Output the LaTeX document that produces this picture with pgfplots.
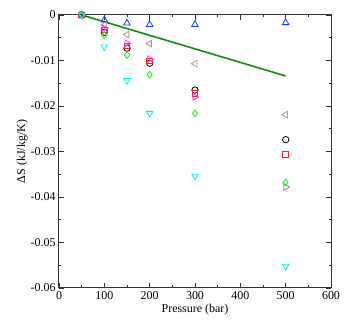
\documentclass[border=0pt]{standalone}
\usepackage{fontspec}
\setmainfont{Liberation Serif}
\usepackage{pgfplots}
\pgfplotsset{compat=1.18}
\definecolor{lblue}{RGB}{20,60,230}
\definecolor{lbrown}{RGB}{190,145,140}
\definecolor{lred}{RGB}{255,30,30}
\definecolor{lmag}{RGB}{250,60,250}
\definecolor{lgreen}{RGB}{20,240,20}
\definecolor{lcyan}{RGB}{0,240,250}
\definecolor{fitline}{RGB}{20,140,20}

\begin{document}
\begin{tikzpicture}
\begin{axis}[scale only axis, width=272bp, height=273bp,
  xmin=0, xmax=600, ymin=-0.06, ymax=0,
  xtick={0,100,...,600}, minor xtick={50,150,...,550},
  ytick={-0.06,-0.05,...,0}, minor ytick={-0.055,-0.045,...,-0.005},
  scaled y ticks=false,
  tick align=inside, major tick length=5bp, minor tick length=2.5bp,
  tick style={black!80, line width=0.6bp},
  axis line style={black!80, line width=1bp},
  yticklabel style={/pgf/number format/fixed, /pgf/number format/precision=2},
  /pgf/number format/assume math mode=true,
  ticklabel style={font=\fontsize{12}{13}\selectfont},
  label style={font=\fontsize{12}{13}\selectfont},
  xlabel={Pressure (bar)}, ylabel={ΔS (kJ/kg/K)},
  xlabel style={yshift=2bp}, ylabel style={yshift=-4bp},
  clip=false]
\addplot[fitline, line width=1.6bp] coordinates {(50,0) (500,-0.0134)};
\addplot[only marks, mark=triangle, mark size=3.8bp, lblue, line width=0.8bp]
  coordinates {(50,0) (100,-0.0011) (150,-0.0018) (200,-0.0021) (300,-0.0021) (500,-0.0017)};
\addplot[only marks, mark=triangle, mark options={rotate=90}, mark size=3.8bp, lbrown, line width=0.8bp]
  coordinates {(50,0) (100,-0.0022) (150,-0.0043) (200,-0.0063) (300,-0.0107) (500,-0.0219)};
\addplot[only marks, mark=o, mark size=3.2bp, black, line width=0.8bp]
  coordinates {(50,0) (100,-0.0038) (150,-0.0073) (200,-0.0106) (300,-0.0165) (500,-0.0274)};
\addplot[only marks, mark=square, mark size=2.8bp, lred, line width=0.8bp]
  coordinates {(50,0) (100,-0.0033) (150,-0.0068) (200,-0.0101) (300,-0.0172) (500,-0.0306)};
\addplot[only marks, mark=triangle, mark options={rotate=-90}, mark size=3.8bp, lmag, line width=0.8bp]
  coordinates {(50,0) (100,-0.0029) (150,-0.0062) (200,-0.0097) (300,-0.0180) (500,-0.0378)};
\addplot[only marks, mark=diamond, mark size=3.4bp, lgreen, line width=0.8bp]
  coordinates {(50,0) (100,-0.0044) (150,-0.0088) (200,-0.0131) (300,-0.0216) (500,-0.0368)};
\addplot[only marks, mark=triangle, mark options={rotate=180}, mark size=3.8bp, lcyan, line width=0.8bp]
  coordinates {(50,0) (100,-0.0070) (150,-0.0144) (200,-0.0216) (300,-0.0354) (500,-0.0552)};
\end{axis}
\useasboundingbox ([xshift=-59bp,yshift=-37bp]current axis.south west) rectangle ([xshift=23bp,yshift=15bp]current axis.north east);
\end{tikzpicture}
\end{document}
